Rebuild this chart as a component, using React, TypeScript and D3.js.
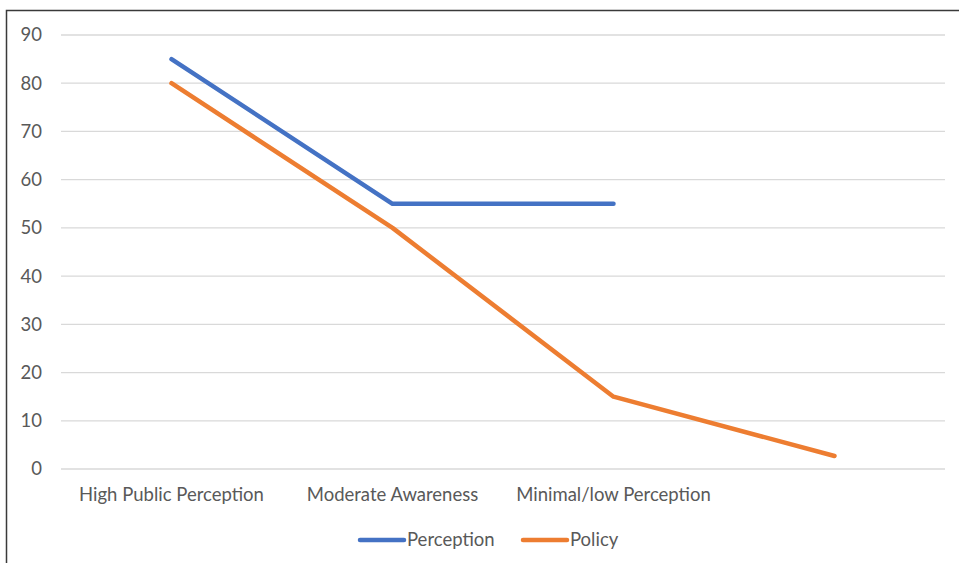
import { useEffect, useRef } from 'react';
import * as d3 from 'd3';

const categories = ['High Public Perception', 'Moderate Awareness', 'Minimal/low Perception', ''];
const perception: (number | null)[] = [85, 55, 55, null];
const policy: (number | null)[] = [80, 50, 15, 2.7];
const yTicks = [0, 10, 20, 30, 40, 50, 60, 70, 80, 90];

const W = 959;
const H = 563;

export default function App() {
  const svgRef = useRef<SVGSVGElement>(null);

  useEffect(() => {
    if (!svgRef.current) return;
    const svg = d3.select(svgRef.current);
    svg.selectAll('*').remove();

    const font = 'Lato, "Open Sans", sans-serif';
    const textColor = '#595959';
    const fontSize = '18.5px';

    // chart frame
    svg.append('rect')
      .attr('x', 6.5).attr('y', 10.5)
      .attr('width', W + 20).attr('height', H + 20)
      .attr('fill', '#fff')
      .attr('stroke', '#3a3a3a')
      .attr('stroke-width', 1.5);

    const x = d3.scaleBand<string>()
      .domain(categories.map((c, i) => String(i)))
      .range([61, 945]);
    const y = d3.scaleLinear().domain([0, 90]).range([469, 35]);

    // gridlines
    svg.append('g')
      .selectAll('line')
      .data(yTicks)
      .enter().append('line')
      .attr('x1', 61).attr('x2', 945)
      .attr('y1', d => y(d)).attr('y2', d => y(d))
      .attr('stroke', '#d9d9d9')
      .attr('stroke-width', 1.3);

    // y labels
    svg.append('g')
      .selectAll('text')
      .data(yTicks)
      .enter().append('text')
      .attr('x', 42)
      .attr('y', d => y(d))
      .attr('dy', '0.35em')
      .attr('text-anchor', 'end')
      .style('font-family', font)
      .style('font-size', fontSize)
      .style('fill', textColor)
      .text(d => d);

    // x labels
    svg.append('g')
      .selectAll('text')
      .data(categories)
      .enter().append('text')
      .attr('x', (d, i) => (x(String(i)) as number) + x.bandwidth() / 2)
      .attr('y', 501)
      .attr('text-anchor', 'middle')
      .style('font-family', font)
      .style('font-size', fontSize)
      .style('fill', textColor)
      .text(d => d);

    const cx = (i: number) => (x(String(i)) as number) + x.bandwidth() / 2;

    const line = d3.line<number | null>()
      .defined(d => d !== null)
      .x((d, i) => cx(i))
      .y(d => y(d as number));

    const series = [
      { name: 'Perception', values: perception, color: '#4472C4' },
      { name: 'Policy', values: policy, color: '#ED7D31' },
    ];

    series.forEach(s => {
      svg.append('path')
        .datum(s.values)
        .attr('d', line)
        .attr('fill', 'none')
        .attr('stroke', s.color)
        .attr('stroke-width', 4.5)
        .attr('stroke-linejoin', 'round')
        .attr('stroke-linecap', 'round');
    });

    // legend
    const legendX = [360, 523];
    const legend = svg.append('g');
    series.forEach((s, i) => {
      legend.append('line')
        .attr('x1', legendX[i]).attr('x2', legendX[i] + 44)
        .attr('y1', 540).attr('y2', 540)
        .attr('stroke', s.color)
        .attr('stroke-width', 4.5)
        .attr('stroke-linecap', 'round');
      legend.append('text')
        .attr('x', legendX[i] + 47)
        .attr('y', 540)
        .attr('dy', '0.35em')
        .style('font-family', font)
        .style('font-size', fontSize)
        .style('fill', textColor)
        .text(s.name);
    });
  }, []);

  return (
    <svg
      ref={svgRef}
      width={W}
      height={H}
      style={{ position: 'absolute', left: 0, top: 0, background: '#fff' }}
    />
  );
}
